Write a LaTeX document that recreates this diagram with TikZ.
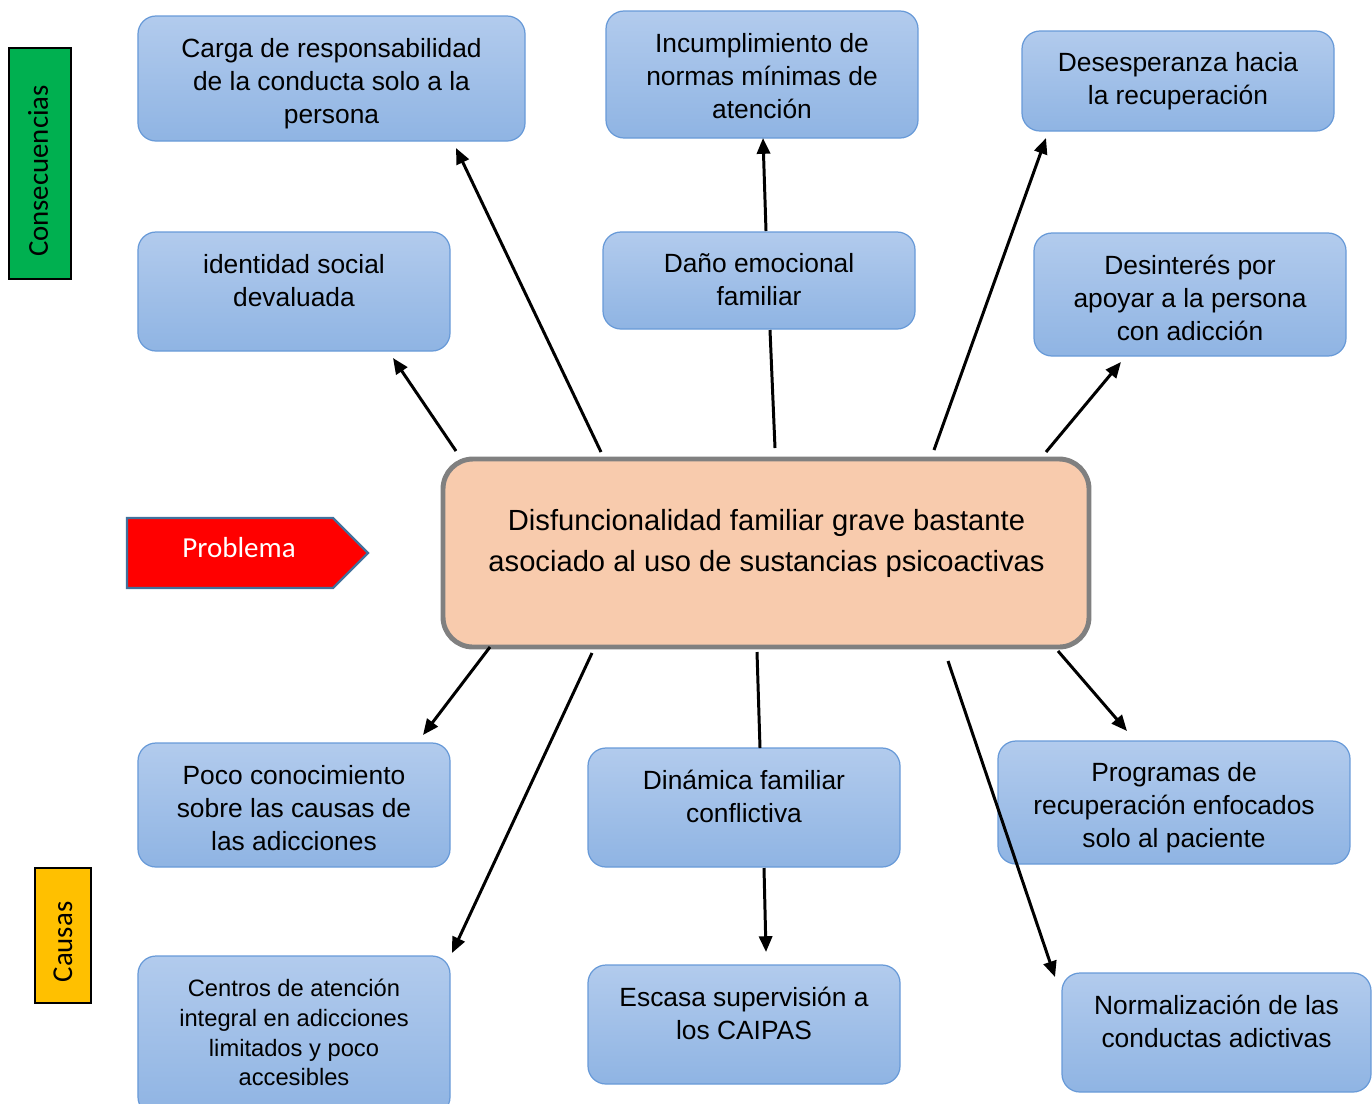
\documentclass[tikz,border=0pt]{standalone}
\usepackage{fontspec}
\setmainfont{Liberation Sans}
\newfontfamily\calibri{Carlito}
\usetikzlibrary{arrows.meta}
\definecolor{boxtop}{RGB}{178,203,237}
\definecolor{boxbot}{RGB}{143,180,227}
\definecolor{boxborder}{RGB}{104,154,216}
\definecolor{centfill}{RGB}{248,203,173}
\definecolor{centborder}{RGB}{128,128,128}
\definecolor{probborder}{RGB}{65,113,156}
\definecolor{consgreen}{RGB}{0,176,80}
\definecolor{causyellow}{RGB}{255,192,0}
\tikzset{
  bbox/.style={draw=boxborder, line width=0.7pt, rounded corners=0.36cm, top color=boxtop, bottom color=boxbot, inner sep=0pt},
  btext/.style={align=center, font=\fontsize{15}{18.7}\selectfont, inner sep=0pt},
  arr/.style={line width=1.7pt, -{Triangle[length=9pt,width=7.5pt]}},
  plain/.style={line width=1.7pt},
  sidebox/.style={draw=black, line width=0.8pt, inner sep=0pt}
}
\newcommand\mkbox[7]{%
  \pgfmathsetmacro\bw{(#4-#2)*0.02}%
  \pgfmathsetmacro\bh{(#5-#3)*0.02}%
  \node[bbox, minimum width=\bw cm, minimum height=\bh cm] (#1) at ({(#2+#4)/2},{(#3+#5)/2}) {};
  \node[btext] (#1t) at ({(#2+#4)/2},#6) {#7};
}
\begin{document}
\begin{tikzpicture}[x=0.02cm,y=-0.02cm]
\useasboundingbox (0,0) rectangle (1372,1103);
% side labels
\node[sidebox, fill=consgreen, minimum width=62*0.02cm, minimum height=231*0.02cm] (cons) at (40,163.5) {};
\node[rotate=90, font=\calibri\fontsize{16.4}{19}\selectfont, inner sep=0pt] (const) at (38,171) {Consecuencias};
\node[sidebox, fill=causyellow, minimum width=56*0.02cm, minimum height=135*0.02cm] (caus) at (63,935.5) {};
\node[rotate=90, font=\calibri\fontsize{16.4}{19}\selectfont, inner sep=0pt] (caust) at (63,942) {Causas};
% problema arrow
\fill[red, draw=probborder, line width=1.3pt] (127,518) -- (333,518) -- (368,553) -- (333,588) -- (127,588) -- cycle;
\node[text=white, font=\calibri\fontsize{16.5}{19}\selectfont, inner sep=0pt] (prob) at (239,548) {Problema};
% central
\node[draw=centborder, line width=2.8pt, fill=centfill, rounded corners=0.6cm, minimum width=646*0.02cm, minimum height=188*0.02cm] (cent) at (766,553) {};
\node[align=center, font=\fontsize{16.6}{23.2}\selectfont, inner sep=0pt] (centt) at (766.5,543.5) {Disfuncionalidad familiar grave bastante\\asociado al uso de sustancias psicoactivas};
% boxes
\mkbox{carga}{138}{16}{525}{141}{84}{Carga de responsabilidad\\de la conducta solo a la\\persona}
\mkbox{incum}{606}{11}{918}{138}{76}{Incumplimiento de\\normas mínimas de\\atención}
\mkbox{deses}{1022}{31}{1334}{131}{81.5}{Desesperanza hacia\\la recuperación}
\mkbox{ident}{138}{232}{450}{351}{280.5}{identidad social\\devaluada}
\mkbox{dano}{603}{232}{915}{329}{279.5}{Daño emocional\\familiar}
\mkbox{desin}{1034}{233}{1346}{356}{298}{Desinterés por\\apoyar a la persona\\con adicción}
\mkbox{poco}{138}{743}{450}{867}{808}{Poco conocimiento\\sobre las causas de\\las adicciones}
\mkbox{dinam}{588}{748}{900}{867}{796.5}{Dinámica familiar\\conflictiva}
\mkbox{progr}{998}{741}{1350}{864}{808}{Programas de\\recuperación enfocados\\solo al paciente}
\pgfmathsetmacro\bw{(450-138)*0.02}
\pgfmathsetmacro\bh{(1115-956)*0.02}
\node[bbox, minimum width=\bw cm, minimum height=\bh cm] (centros) at (294,1035.5) {};
\node[align=center, font=\fontsize{13.5}{17}\selectfont, inner sep=0pt] (centrost) at (294,1032.5) {Centros de atención\\integral en adicciones\\limitados y poco\\accesibles};
\mkbox{escasa}{588}{965}{900}{1084}{1013.5}{Escasa supervisión a\\los CAIPAS}
\mkbox{normal}{1062}{973}{1371}{1092}{1021.5}{Normalización de las\\conductas adictivas}
% connector end points
\coordinate (p1) at (456,451); \coordinate (q1) at (393,358);
\coordinate (p2) at (601,452); \coordinate (q2) at (456,148);
\coordinate (p3) at (775,448); \coordinate (q3) at (770,330);
\coordinate (p4) at (766,231); \coordinate (q4) at (763,138);
\coordinate (p5) at (934,450); \coordinate (q5) at (1046,138);
\coordinate (p6) at (1046,452); \coordinate (q6) at (1121,362);
\coordinate (p7) at (490,647); \coordinate (q7) at (423,735);
\coordinate (p8) at (592,653); \coordinate (q8) at (452,953);
\coordinate (p9) at (757,652); \coordinate (q9) at (760,748);
\coordinate (p10) at (764,868); \coordinate (q10) at (766,952);
\coordinate (p11) at (948,661); \coordinate (q11) at (1055,977);
\coordinate (p12) at (1058,651); \coordinate (q12) at (1127,731);
% connectors
\draw[arr] (p1) -- (q1);
\draw[arr] (p2) -- (q2);
\draw[plain] (p3) -- (q3);
\draw[arr] (p4) -- (q4);
\draw[arr] (p5) -- (q5);
\draw[arr] (p6) -- (q6);
\draw[arr] (p7) -- (q7);
\draw[arr] (p8) -- (q8);
\draw[plain] (p9) -- (q9);
\draw[arr] (p10) -- (q10);
\draw[arr] (p11) -- (q11);
\draw[arr] (p12) -- (q12);
\end{tikzpicture}
\end{document}
